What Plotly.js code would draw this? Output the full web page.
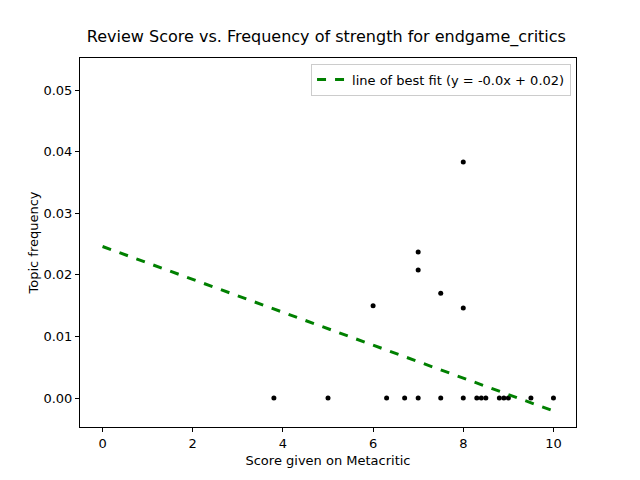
<!DOCTYPE html>
<html>
<head>
<script src="https://cdn.plot.ly/plotly-3.0.1.min.js"></script>
<style>body{margin:0}</style>
</head>
<body>
<div id="chart" style="width:640px;height:480px;"></div>
<script>
// scores and topic frequencies
var scores = [3.8, 5, 6, 6.3, 6.7, 7, 7, 7, 7.5, 7.5, 8, 8, 8, 8.3, 8.4, 8.5, 8.8, 8.9, 9, 9.5, 10];
var freqs = [0, 0, 0.015, 0, 0, 0, 0.0237, 0.0208, 0.017, 0, 0.0383, 0.0146, 0, 0, 0, 0, 0, 0, 0, 0, 0];
var fitX = [0, 10];
var fitY = [0.0246, -0.0021];

function drawChart() {
	var points = {
		x: scores,
		y: freqs,
		mode: 'markers',
		type: 'scatter',
		marker: {color: 'black', size: 5},
		showlegend: false
	};
	var fit = {
		x: fitX,
		y: fitY,
		mode: 'lines',
		type: 'scatter',
		name: 'line of best fit (y = -0.0x + 0.02)',
		line: {color: 'green', width: 3, dash: 'dash'}
	};
	var axis = {
		showgrid: false, zeroline: false, showline: true, mirror: true,
		linecolor: 'black', linewidth: 1, ticks: 'outside', ticklen: 4,
		tickcolor: 'black', tickfont: {size: 13}
	};
	var layout = {
		width: 640, height: 480,
		margin: {l: 80, r: 64, t: 58, b: 53},
		font: {family: 'DejaVu Sans', size: 13, color: 'black'},
		title: {text: 'Review Score vs. Frequency of strength for endgame_critics', x: 0.51, y: 0.935, font: {size: 16}},
		xaxis: Object.assign({}, axis, {range: [-0.5, 10.5], tickvals: [0, 2, 4, 6, 8, 10],
			title: {text: 'Score given on Metacritic', standoff: 6, font: {size: 13}}}),
		yaxis: Object.assign({}, axis, {range: [-0.0047, 0.0552], tickvals: [0, 0.01, 0.02, 0.03, 0.04, 0.05],
			tickformat: '.2f', title: {text: 'Topic frequency', font: {size: 13}}}),
		legend: {x: 0.99, y: 0.985, xanchor: 'right', yanchor: 'top', bordercolor: '#ccc', borderwidth: 1, font: {size: 13}},
		plot_bgcolor: 'white', paper_bgcolor: 'white'
	};
	Plotly.newPlot('chart', [points, fit], layout, {displayModeBar: false});
}

window.onload = drawChart;
</script>
</body>
</html>
